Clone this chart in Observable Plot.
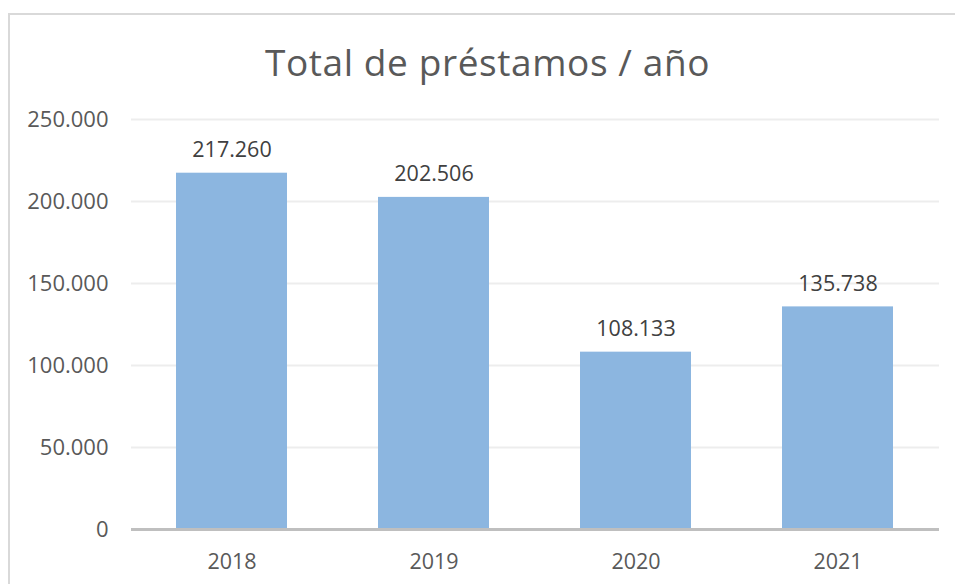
<!DOCTYPE html>
<html>
<head>
<meta charset="utf-8">
<script src="https://cdn.jsdelivr.net/npm/d3@7"></script>
<script src="https://cdn.jsdelivr.net/npm/@observablehq/plot@0.6"></script>
<style>
  html, body { margin: 0; padding: 0; background: #fff; }
  #wrap { position: relative; width: 955px; height: 584px; overflow: hidden; font-family: "Open Sans", sans-serif; }
  #frame { position: absolute; left: 8px; top: 13px; width: 1000px; height: 700px; border-left: 2px solid #d9d9d9; border-top: 2px solid #d9d9d9; }
  #title { position: absolute; left: 0; top: 0; width: 975px; height: 90px; margin: 0; text-align: center; line-height: 124px; font-weight: 400; font-size: 37px; color: #595959; letter-spacing: 0.6px; }
  #chart { position: absolute; left: 0; top: 90px; }
</style>
</head>
<body>
<div id="wrap">
  <div id="frame"></div>
  <h2 id="title">Total de préstamos / año</h2>
  <div id="chart"></div>
</div>
<script>
const years = ["2018", "2019", "2020", "2021"];
const values = [217260, 202506, 108133, 135738];
const yTicks = [0, 50000, 100000, 150000, 200000, 250000];

const data = years.map((year, i) => ({year, value: values[i]}));
const fmt = d3.formatLocale({decimal: ",", thousands: ".", grouping: [3], currency: ["", "€"]}).format(",d");

const chart = Plot.plot({
  width: 955,
  height: 494,
  marginLeft: 131,
  marginRight: 16,
  marginTop: 29,
  marginBottom: 55,
  style: {fontFamily: "Open Sans, sans-serif", fontSize: "22px", color: "#595959", background: "transparent"},
  x: {domain: years, paddingInner: 0.45, paddingOuter: 0.225, label: null},
  y: {domain: [0, 250000], label: null},
  marks: [
    Plot.gridY(yTicks, {stroke: "#ededed", strokeOpacity: 1, strokeWidth: 2}),
    Plot.barY(data, {x: "year", y: "value", fill: "#8cb6e0"}),
    Plot.ruleY([0], {stroke: "#bfbfbf", strokeWidth: 3}),
    Plot.text(data, {x: "year", y: "value", text: d => fmt(d.value), dy: -23, fill: "#404040", fontSize: 21.5}),
    Plot.axisX({tickSize: 0, tickPadding: 24, fill: "#595959", fontSize: 21.5}),
    Plot.axisY(yTicks, {tickSize: 0, tickPadding: 23, tickFormat: fmt, fill: "#595959", fontSize: 22})
  ]
});
document.getElementById("chart").appendChild(chart);
</script>
</body>
</html>
